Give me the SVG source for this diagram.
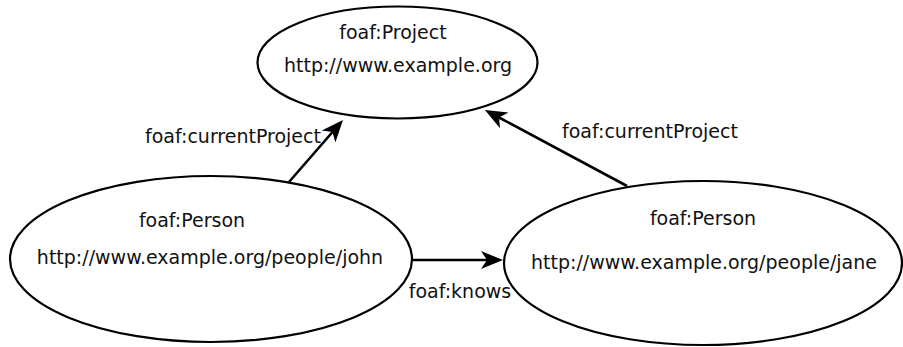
<svg xmlns="http://www.w3.org/2000/svg" width="903" height="347" viewBox="0 0 903 347">
<style>
.node{fill:#fff;stroke:#000;stroke-width:2.2}
.lbl{font-family:"DejaVu Sans",sans-serif;font-size:19px;fill:#111;text-anchor:middle}
.edge{stroke:#000;stroke-width:2.6;fill:none;marker-end:url(#arr)}
</style>
<defs>
<marker id="arr" markerUnits="userSpaceOnUse" markerWidth="26" markerHeight="22" viewBox="0 -11 26 22" refX="6" refY="0" orient="auto">
<path d="M22,0 L0,-9 L6,0 L0,9 Z" fill="#000"/>
</marker>
</defs>
<rect width="903" height="347" fill="#fff"/>
<g id="connectors">
<line class="edge" x1="289" y1="182" x2="332.5" y2="132"/>
<line class="edge" x1="627" y1="186" x2="499" y2="117.5"/>
<line class="edge" x1="412" y1="260" x2="487" y2="260"/>
<text class="lbl" x="233" y="143">foaf:currentProject</text>
<text class="lbl" x="650" y="138">foaf:currentProject</text>
<text class="lbl" x="460" y="298">foaf:knows</text>
</g>
<g id="project">
<ellipse class="node" cx="397.5" cy="62.5" rx="140" ry="56"/>
<text class="lbl" x="393" y="39">foaf:Project</text>
<text class="lbl" x="398" y="72">http://www.example.org</text>
</g>
<g id="john">
<ellipse class="node" cx="211" cy="259" rx="201" ry="83"/>
<text class="lbl" x="192" y="227">foaf:Person</text>
<text class="lbl" x="210" y="264">http://www.example.org/people/john</text>
</g>
<g id="jane">
<ellipse class="node" cx="703" cy="263" rx="199" ry="82"/>
<text class="lbl" x="703" y="225">foaf:Person</text>
<text class="lbl" x="704" y="269">http://www.example.org/people/jane</text>
</g>
</svg>
